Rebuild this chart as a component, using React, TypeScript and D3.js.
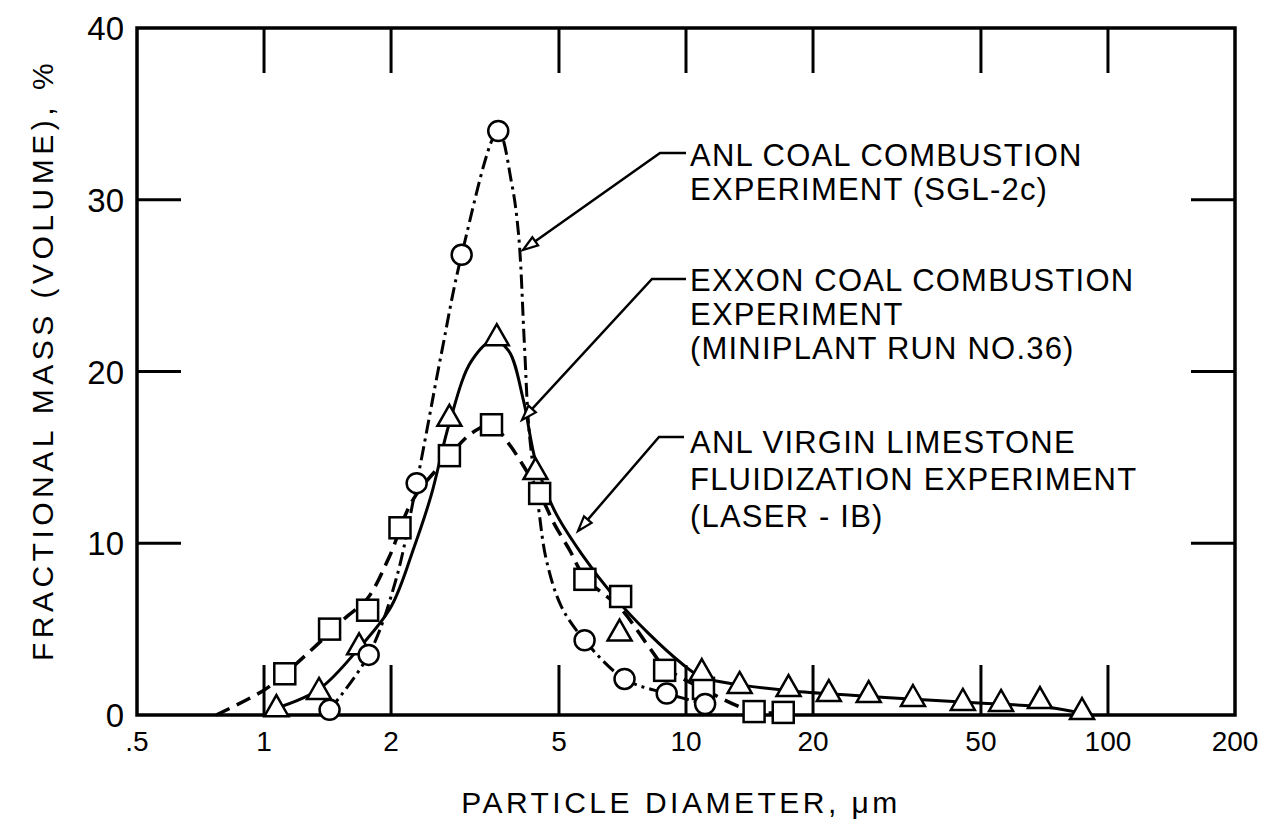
import React from 'react';
import * as d3 from 'd3';

// ---- axes ----
const xTickValues = [0.5, 1, 2, 5, 10, 20, 50, 100, 200];
const xTickLabels = ['.5', '1', '2', '5', '10', '20', '50', '100', '200'];
const xInnerTicks = [1, 2, 5, 10, 20, 50, 100];
const yTickValues = [0, 10, 20, 30, 40];
const yTickLabels = ['0', '10', '20', '30', '40'];
const yInnerTicks = [10, 20, 30];

// ---- ANL coal combustion experiment (SGL-2c): circles, dash-dot ----
const anlCoalPoints: [number, number][] = [
  [1.43, 0.3], [1.77, 3.5], [2.30, 13.5], [2.94, 26.8], [3.59, 34.0],
  [5.75, 4.35], [7.15, 2.1], [9.0, 1.25], [11.1, 0.64],
];
const anlCoalCurve: [number, number][] = [
  [1.43, 0.3], [1.77, 3.5], [2.05, 7.8], [2.30, 13.5], [2.63, 21.0], [2.94, 26.8],
  [3.59, 34.0], [3.86, 31.0], [4.01, 28.0], [4.14, 21.6], [4.25, 16.5], [4.47, 12.1],
  [4.67, 9.0], [5.07, 6.3], [5.75, 4.35], [7.15, 2.1], [9.0, 1.25], [11.1, 0.64],
];

// ---- Exxon coal combustion experiment (miniplant run no.36): triangles, solid ----
const exxonPoints: [number, number][] = [
  [1.07, 0.4], [1.35, 1.4], [1.68, 4.0], [2.75, 17.3], [3.56, 22.0], [4.40, 14.2],
  [6.96, 4.8], [10.9, 2.5], [13.4, 1.75], [17.5, 1.57], [21.8, 1.28], [27.1, 1.22],
  [34.5, 0.99], [45.3, 0.76], [55.8, 0.7], [69.0, 0.87], [86.8, 0.23],
];
const exxonCurve: [number, number][] = [
  [1.07, 0.4], [1.35, 1.5], [1.68, 3.9], [2.0, 6.3], [2.27, 9.8], [2.49, 12.8],
  [2.75, 17.0], [3.1, 20.6], [3.5, 21.8], [3.8, 21.2], [4.12, 18.3], [4.4, 14.8],
  [4.88, 11.9], [5.65, 9.4], [6.78, 6.85], [8.15, 4.75], [9.77, 3.0], [10.9, 2.2],
  [13.6, 1.74], [17.8, 1.4], [24.7, 1.15], [35.6, 0.9], [49.4, 0.7], [71, 0.46], [86.8, 0.1],
];

// ---- ANL virgin limestone fluidization experiment (LASER-IB): squares, dashed ----
const anlLimestonePoints: [number, number][] = [
  [1.12, 2.4], [1.43, 5.0], [1.76, 6.1], [2.10, 10.9], [2.75, 15.1], [3.46, 16.9],
  [4.5, 12.9], [5.76, 7.9], [7.0, 6.9], [8.9, 2.6], [11.0, 1.55], [14.5, 0.2], [17.0, 0.15],
];
const anlLimestoneCurve: [number, number][] = [
  [0.77, 0], [1.0, 1.45], [1.12, 2.4], [1.35, 4.2], [1.55, 5.6], [1.76, 6.8], [1.98, 9.2],
  [2.25, 12.5], [2.75, 15.1], [3.1, 16.4], [3.46, 16.9], [3.8, 15.8], [4.12, 14.5],
  [4.5, 12.9], [4.88, 11.1], [5.3, 9.6], [5.76, 8.0], [7.0, 6.2], [8.15, 4.0], [8.9, 2.8],
  [11.0, 1.5], [14.5, 0.2], [17.0, 0.15],
];

// ---- annotations ----
const anlCoalLabel = ['ANL COAL COMBUSTION', 'EXPERIMENT (SGL-2c)'];
const exxonLabel = ['EXXON COAL COMBUSTION', 'EXPERIMENT', '(MINIPLANT RUN NO.36)'];
const anlLimestoneLabel = ['ANL VIRGIN LIMESTONE', 'FLUIDIZATION EXPERIMENT', '(LASER - IB)'];

const W = 1271, H = 824;
const L = 137, R = 1235, T = 28, B = 715;
const FONT = "'Liberation Sans', Arial, sans-serif";

const x = d3.scaleLog().domain([0.5, 200]).range([L, R]);
const y = d3.scaleLinear().domain([0, 40]).range([B, T]);

const lineGen = d3
  .line<[number, number]>()
  .x((d) => x(d[0]))
  .y((d) => y(d[1]))
  .curve(d3.curveCatmullRom.alpha(0.5));

function Arrow({ pts, tip }: { pts: [number, number][]; tip: [number, number] }) {
  const last = pts[pts.length - 1];
  const dx = tip[0] - last[0];
  const dy = tip[1] - last[1];
  const len = Math.hypot(dx, dy);
  const ux = dx / len, uy = dy / len;
  const hl = 15, hw = 5;
  const bx = tip[0] - ux * hl, by = tip[1] - uy * hl;
  const head = `${tip[0]},${tip[1]} ${bx - uy * hw},${by + ux * hw} ${bx + uy * hw},${by - ux * hw}`;
  const d = 'M' + pts.map((p) => p.join(',')).join('L') + `L${bx},${by}`;
  return (
    <g>
      <path d={d} fill="none" stroke="#000" strokeWidth={2.5} />
      <polygon points={head} fill="#fff" stroke="#000" strokeWidth={2.2} />
    </g>
  );
}

function Label({ lines, x0, y0, dy }: { lines: string[]; x0: number; y0: number; dy: number }) {
  return (
    <text fontFamily={FONT} fontSize={31} letterSpacing={1.2} fill="#000">
      {lines.map((s, i) => (
        <tspan key={i} x={x0} y={y0 + i * dy}>
          {s}
        </tspan>
      ))}
    </text>
  );
}

export default function App() {
  return (
    <svg
      width={W}
      height={H}
      viewBox={`0 0 ${W} ${H}`}
      style={{ position: 'absolute', left: 0, top: 0, background: '#fff' }}
    >
      <rect x={0} y={0} width={W} height={H} fill="#fff" />

      {/* frame */}
      <rect x={L} y={T} width={R - L} height={B - T} fill="none" stroke="#000" strokeWidth={3.5} />

      {/* inner ticks */}
      {xInnerTicks.map((v) => (
        <g key={'xt' + v}>
          <line x1={x(v)} x2={x(v)} y1={B} y2={B - 50} stroke="#000" strokeWidth={3} />
          <line x1={x(v)} x2={x(v)} y1={T} y2={T + 45} stroke="#000" strokeWidth={3} />
        </g>
      ))}
      {yInnerTicks.map((v) => (
        <g key={'yt' + v}>
          <line x1={L} x2={L + 44} y1={y(v)} y2={y(v)} stroke="#000" strokeWidth={3} />
          <line x1={R} x2={R - 44} y1={y(v)} y2={y(v)} stroke="#000" strokeWidth={3} />
        </g>
      ))}

      {/* tick labels */}
      {xTickValues.map((v, i) => (
        <text
          key={'xl' + v}
          x={x(v)}
          y={751}
          textAnchor="middle"
          fontFamily={FONT}
          fontSize={28}
          fill="#000"
        >
          {xTickLabels[i]}
        </text>
      ))}
      {yTickValues.map((v, i) => (
        <text
          key={'yl' + v}
          x={124}
          y={y(v) + 12}
          textAnchor="end"
          fontFamily={FONT}
          fontSize={33}
          fill="#000"
        >
          {yTickLabels[i]}
        </text>
      ))}

      {/* axis titles */}
      <text
        x={681}
        y={813}
        textAnchor="middle"
        fontFamily={FONT}
        fontSize={30}
        letterSpacing={3.5}
        fill="#000"
      >
        {'PARTICLE  DIAMETER, \u03BCm'}
      </text>
      <text
        transform="translate(53,360) rotate(-90)"
        textAnchor="middle"
        fontFamily={FONT}
        fontSize={30}
        letterSpacing={4.5}
        fill="#000"
      >
        FRACTIONAL MASS (VOLUME), %
      </text>

      {/* curves */}
      <path d={lineGen(anlLimestoneCurve) || ''} fill="none" stroke="#000" strokeWidth={3.5} strokeDasharray="15 8" />
      <path d={lineGen(exxonCurve) || ''} fill="none" stroke="#000" strokeWidth={3} />
      <path d={lineGen(anlCoalCurve) || ''} fill="none" stroke="#000" strokeWidth={3} strokeDasharray="14 5 3 5" />

      {/* markers */}
      {anlLimestonePoints.map((d, i) => (
        <rect
          key={'sq' + i}
          x={x(d[0]) - 10.5}
          y={y(d[1]) - 10.5}
          width={21}
          height={21}
          fill="#fff"
          stroke="#000"
          strokeWidth={2.5}
        />
      ))}
      {exxonPoints.map((d, i) => {
        const cx = x(d[0]), cy = y(d[1]);
        return (
          <polygon
            key={'tr' + i}
            points={`${cx},${cy - 13} ${cx + 12},${cy + 8} ${cx - 12},${cy + 8}`}
            fill="#fff"
            stroke="#000"
            strokeWidth={2.5}
          />
        );
      })}
      {anlCoalPoints.map((d, i) => (
        <circle key={'ci' + i} cx={x(d[0])} cy={y(d[1])} r={10} fill="#fff" stroke="#000" strokeWidth={2.5} />
      ))}

      {/* leaders */}
      <Arrow pts={[[686, 153], [660, 153]]} tip={[523, 250]} />
      <Arrow pts={[[686, 279], [652, 279]]} tip={[522, 420]} />
      <Arrow pts={[[684, 437], [659, 437]]} tip={[578, 531]} />

      {/* annotation text */}
      <Label lines={anlCoalLabel} x0={690} y0={166} dy={34} />
      <Label lines={exxonLabel} x0={690} y0={291} dy={34} />
      <Label lines={anlLimestoneLabel} x0={690} y0={453} dy={37} />
    </svg>
  );
}
